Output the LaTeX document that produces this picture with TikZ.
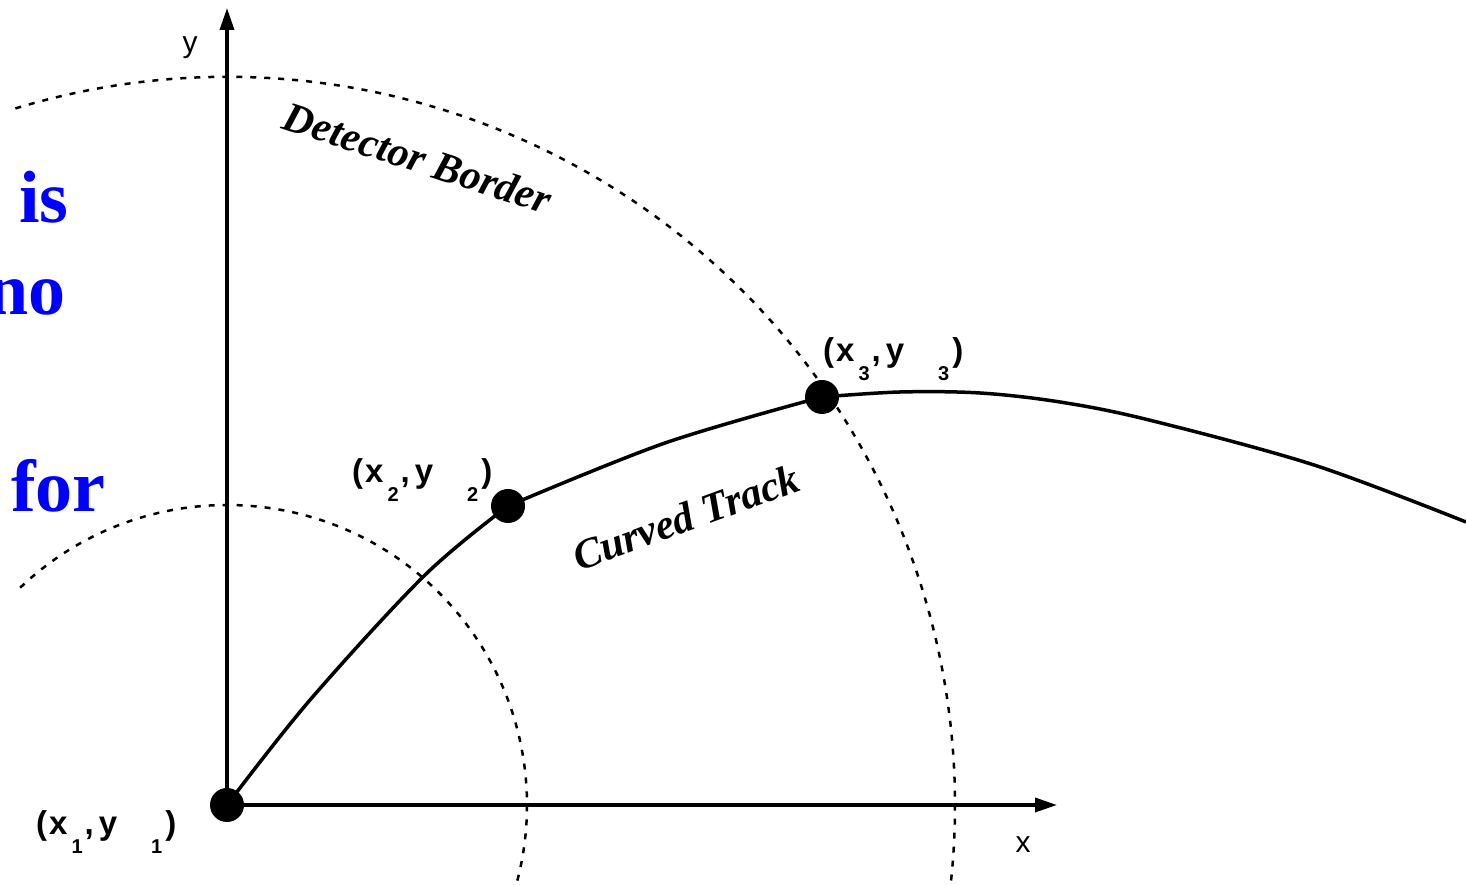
\documentclass[tikz,border=0pt]{standalone}
\usepackage{fontspec}
\setmainfont{Liberation Serif}
\newfontfamily\labfont{Liberation Sans}
\usetikzlibrary{arrows.meta}
\definecolor{slideblue}{RGB}{0,0,255}
\newcommand\subnum[1]{\raisebox{-19pt}{\fontsize{20}{20}\selectfont #1}}
\newcommand\xylab[1]{(\hspace{2pt}x\hspace{4pt}\subnum{#1}\hspace{2pt},\hspace{5pt}y\hspace{34pt}\subnum{#1}\hspace{3pt})}
\begin{document}
\begin{tikzpicture}[x=1pt,y=1pt,
  axis/.style={line width=3.5pt,-{Triangle[length=22pt,width=14pt]}},
  border/.style={line width=2.5pt,dash pattern=on 6pt off 8pt},
  track/.style={line width=3.5pt,line join=round},
  dot/.style={circle,fill=black,inner sep=0pt,minimum size=34pt},
  ptlabel/.style={inner sep=0pt,anchor=base west,font=\labfont\bfseries\fontsize{33}{36}\selectfont},
  axlabel/.style={inner sep=0pt,anchor=base,font=\labfont\fontsize{30}{32}\selectfont},
  slidetext/.style={inner sep=0pt,text=slideblue,font=\bfseries\fontsize{74}{80}\selectfont},
  curvelabel/.style={inner sep=0pt,font=\bfseries\itshape\fontsize{42}{44}\selectfont}]
\useasboundingbox (0,0) rectangle (1466,885);
\clip (0,0) rectangle (1466,885);
\fill[white] (0,0) rectangle (1466,885);

% key points
\coordinate (p1) at (227,80);
\coordinate (p2) at (508,379);
\coordinate (p3) at (822,488);
\coordinate (pend) at (1466,363);
\coordinate (ytip) at (227,877);
\coordinate (xtip) at (1057,80);

% detector borders (circles about the origin)
\draw[border] (p1) ++(133.6:300) arc[start angle=133.6,end angle=-20,radius=300];
\draw[border] (p1) ++(106.9:728) arc[start angle=106.9,end angle=-10,radius=728];

% curved track
\draw[track] plot[smooth,tension=0.55] coordinates {(p1) (310,185) (425,310) (p2)};
\draw[track] plot[smooth,tension=0.55] coordinates {(p2) (665,442) (p3)};
\draw[track] plot[smooth,tension=0.55] coordinates {(p3) (900,493) (980,492) (1060,483) (1149,465) (1314,420) (pend)};

% axes
\draw[axis] (p1) -- (ytip);
\draw[axis] (p1) -- (xtip);
\node[axlabel] (ylab) at (190,832) {y};
\node[axlabel] (xlab) at (1023,32) {x};

% measurement points
\node[dot] (d1) at (p1) {};
\node[dot] (d2) at (p2) {};
\node[dot] (d3) at (p3) {};
\node[ptlabel] (l1) at (36,50) {\xylab{1}};
\node[ptlabel] (l2) at (352,402) {\xylab{2}};
\node[ptlabel] (l3) at (823,523) {\xylab{3}};

% curve labels
\node[curvelabel,rotate=-18] (det) at (418,727) {Detector Border};
\node[curvelabel,rotate=20] (trk) at (686,368) {Curved Track};

% cropped slide text
\node[slidetext,anchor=base west] (t1) at (19,662) {is};
\node[slidetext,anchor=base east] (t2) at (66,570) {no};
\node[slidetext,anchor=base west] (t3) at (11,373) {for};
\end{tikzpicture}
\end{document}
